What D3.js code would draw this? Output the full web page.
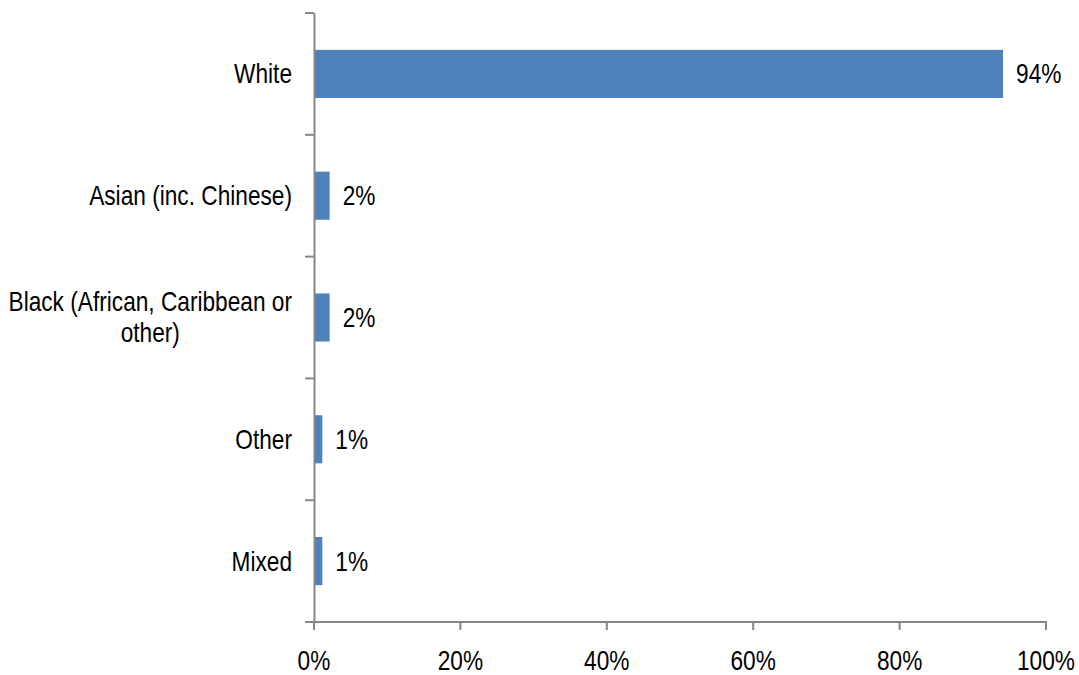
<!DOCTYPE html>
<html>
<head>
<meta charset="utf-8">
<script src="https://cdn.jsdelivr.net/npm/d3@7"></script>
<style>
  html, body { margin: 0; padding: 0; background: #fff; }
  svg { display: block; }
  text { font-family: "Liberation Sans", Arial, sans-serif; fill: #000; }
</style>
</head>
<body>
<svg id="chart" width="1079" height="675"></svg>
<script>
// Ethnic group breakdown (share of respondents, %)
const categories = [["White"], ["Asian (inc. Chinese)"], ["Black (African, Caribbean or", "other)"], ["Other"], ["Mixed"]];
const values = [94, 2, 2, 1, 1];
const xTicks = [0, 20, 40, 60, 80, 100];

const svg = d3.select("#chart");
const plotLeft = 314, plotRight = 1046, plotTop = 13, plotBottom = 622;
const axisColor = "#868686";
const fontSize = 27;
const narrow = 0.84; // condensed lettering

const x = d3.scaleLinear().domain([0, 100]).range([plotLeft, plotRight]);
const y = d3.scaleBand()
  .domain(categories.map((d, i) => i))
  .range([plotTop, plotBottom])
  .paddingInner(0.605)
  .paddingOuter(0.3025);

// Places a condensed text with its anchor point at (px, py)
function label(parent, px, py, anchor) {
  return parent.append("text")
    .attr("transform", `translate(${px},${py}) scale(${narrow},1)`)
    .attr("text-anchor", anchor)
    .attr("font-size", fontSize);
}

// Bars
svg.append("g").selectAll("rect")
  .data(values)
  .join("rect")
  .attr("x", x(0) + 1)
  .attr("y", (d, i) => y(i))
  .attr("width", d => x(d) - x(0))
  .attr("height", y.bandwidth())
  .attr("fill", "#4F81BD");

// Value labels
const valueG = svg.append("g");
values.forEach((v, i) => {
  label(valueG, x(v) + 14, y(i) + y.bandwidth() / 2, "start")
    .attr("dy", "0.35em")
    .text(v + "%");
});

// Category axis (ticks at band boundaries)
const yAxis = svg.append("g");
yAxis.append("line")
  .attr("x1", plotLeft + 0.5).attr("x2", plotLeft + 0.5)
  .attr("y1", plotTop).attr("y2", plotBottom)
  .attr("stroke", axisColor).attr("stroke-width", 2);
const bounds = d3.range(categories.length + 1).map(i => plotTop + i * y.step());
yAxis.selectAll("line.tick")
  .data(bounds)
  .join("line")
  .attr("class", "tick")
  .attr("x1", plotLeft - 9).attr("x2", plotLeft)
  .attr("y1", d => d).attr("y2", d => d)
  .attr("stroke", axisColor).attr("stroke-width", 2);

// Category labels: right-aligned block, wrapped lines centred within it
const catG = svg.append("g");
categories.forEach((lines, i) => {
  const cy = y(i) + y.bandwidth() / 2;
  const lh = 31;
  const t = label(catG, 0, 0, "middle");
  lines.forEach((s, j) => {
    t.append("tspan")
      .attr("x", 0)
      .attr("y", cy + (j - (lines.length - 1) / 2) * lh)
      .attr("dy", "0.35em")
      .text(s);
  });
  const w = t.node().getBBox().width * narrow;
  t.attr("transform", `translate(${plotLeft - 22 - w / 2},0) scale(${narrow},1)`);
});

// Value axis
const xAxis = svg.append("g");
xAxis.append("line")
  .attr("x1", plotLeft - 9).attr("x2", plotRight + 1)
  .attr("y1", plotBottom).attr("y2", plotBottom)
  .attr("stroke", axisColor).attr("stroke-width", 2);
xAxis.selectAll("line.tick")
  .data(xTicks)
  .join("line")
  .attr("class", "tick")
  .attr("x1", d => x(d)).attr("x2", d => x(d))
  .attr("y1", plotBottom).attr("y2", plotBottom + 8)
  .attr("stroke", axisColor).attr("stroke-width", 2);
xTicks.forEach(d => {
  label(xAxis, x(d), 670, "middle").text(d + "%");
});
</script>
</body>
</html>
